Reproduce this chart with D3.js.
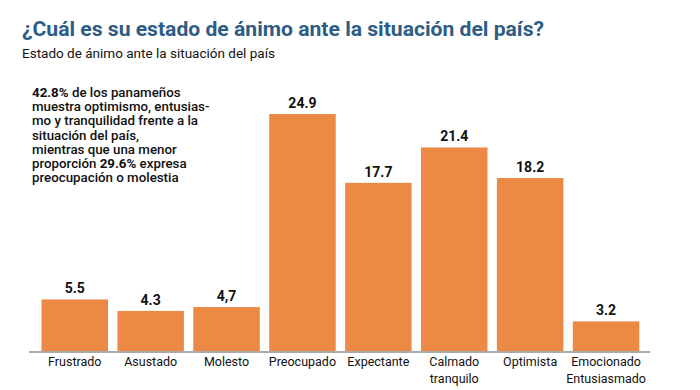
<!DOCTYPE html>
<html>
<head>
<meta charset="utf-8">
<script src="https://cdn.jsdelivr.net/npm/d3@7"></script>
<style>
  html, body { margin: 0; padding: 0; background: #fff; }
  svg { display: block; }
</style>
</head>
<body>
<svg id="chart" width="700" height="390"></svg>
<script>
const categories = [["Frustrado"], ["Asustado"], ["Molesto"], ["Preocupado"], ["Expectante"], ["Calmado", "tranquilo"], ["Optimista"], ["Emocionado", "Entusiasmado"]];
const values = [5.5, 4.3, 4.7, 24.9, 17.7, 21.4, 18.2, 3.2];
const valueLabels = ["5.5", "4.3", "4,7", "24.9", "17.7", "21.4", "18.2", "3.2"];
const titleText = "¿Cuál es su estado de ánimo ante la situación del país?";
const subtitleText = "Estado de ánimo ante la situación del país";
const noteLines = [
  [["42.8%", true], [" de los panameños", false]],
  [["muestra optimismo, entusias-", false]],
  [["mo y tranquilidad frente a la", false]],
  [["situación del país,", false]],
  [["mientras que una menor", false]],
  [["proporción ", false], ["29.6%", true], [" expresa", false]],
  [["preocupación o molestia", false]]
];

const svg = d3.select("#chart");
const font = "Roboto, 'Liberation Sans', Arial, sans-serif";
const orange = "#EC8944";
const ids = categories.map((c, i) => i);

const x = d3.scaleBand().domain(ids).range([36.8, 644]).paddingInner(0.124).paddingOuter(0.062);
const y = d3.scaleLinear().domain([0, 24.9]).range([352, 114]);

// Title
svg.append("text").attr("x", 22).attr("y", 36)
  .attr("font-family", font).attr("font-weight", 700).attr("font-size", 19.5)
  .attr("fill", "#2D5C85")
  .attr("textLength", 522).attr("lengthAdjust", "spacingAndGlyphs")
  .text(titleText);

svg.append("text").attr("x", 22).attr("y", 58)
  .attr("font-family", font).attr("font-size", 12.5)
  .attr("fill", "#111")
  .attr("textLength", 253).attr("lengthAdjust", "spacingAndGlyphs")
  .text(subtitleText);

// Bars
svg.append("g").selectAll("rect").data(values).join("rect")
  .attr("x", (d, i) => x(i))
  .attr("width", x.bandwidth())
  .attr("y", d => y(d))
  .attr("height", d => y(0) - y(d))
  .attr("fill", orange);

// Value labels
svg.append("g").selectAll("text").data(values).join("text")
  .attr("x", (d, i) => x(i) + x.bandwidth() / 2)
  .attr("y", d => y(d) - 6)
  .attr("text-anchor", "middle")
  .attr("font-family", font).attr("font-weight", 700).attr("font-size", 14)
  .attr("fill", "#111")
  .text((d, i) => valueLabels[i]);

// Axis
const axis = d3.axisBottom(x).tickSize(0).tickFormat(() => "");
const ax = svg.append("g").attr("transform", `translate(0,${y(0)})`).call(axis);
ax.select(".domain").attr("d", "M29,0H650").attr("stroke", "#aaa").attr("stroke-width", 2);

// Category labels
const catG = svg.append("g");
categories.forEach((lines, i) => {
  const t = catG.append("text")
    .attr("x", x(i) + x.bandwidth() / 2)
    .attr("y", 366)
    .attr("text-anchor", "middle")
    .attr("font-family", font).attr("font-size", 12.5)
    .attr("fill", "#111");
  lines.forEach((l, j) => {
    t.append("tspan").attr("x", x(i) + x.bandwidth() / 2).attr("dy", j === 0 ? 0 : 17).text(l);
  });
});

// Note
const note = svg.append("text").attr("font-family", font).attr("font-size", 13.3)
  .attr("font-weight", 500).attr("fill", "#111");
noteLines.forEach((parts, i) => {
  parts.forEach((p, k) => {
    const ts = note.append("tspan").text(p[0]).attr("font-weight", p[1] ? 700 : 500);
    if (k === 0) ts.attr("x", 32).attr("y", 97 + i * 14.2);
  });
});
</script>
</body>
</html>
